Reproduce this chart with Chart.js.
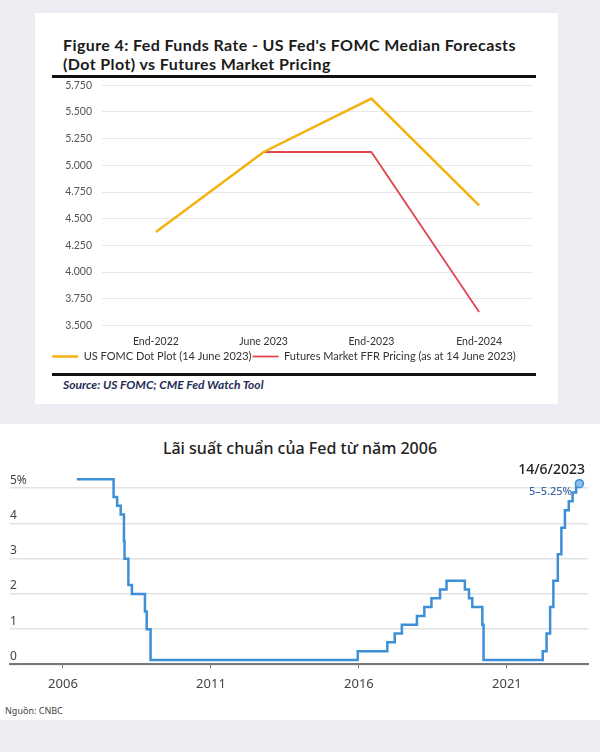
<!DOCTYPE html>
<html>
<head>
<meta charset="UTF-8">
<title>Fed Funds Rate</title>
<script src="https://cdn.jsdelivr.net/npm/chart.js"></script>
<style>
  body { margin: 0; width: 600px; height: 752px; background: #eceef3; position: relative; overflow: hidden; }
  .abs { position: absolute; }
  #card1 { left: 35px; top: 13px; width: 523px; height: 391px; background: #fff; }
  #title1 { left: 28px; top: 22px; font: bold 16px Lato, sans-serif; letter-spacing: 0.4px; line-height: 19px; color: #1b1b1b; white-space: nowrap; }
  .rule { background: #111; height: 3px; left: 17px; width: 484px; }
  #source { left: 28px; top: 365px; font: italic bold 12px Lato, sans-serif; line-height: 14px; color: #1f2d55; }
  #panel2 { left: 0; top: 424px; width: 600px; height: 296px; background: #fff; }
  #title2 { left: 0; width: 600px; top: 13px; text-align: center; font: 500 16px "Noto Sans", sans-serif; color: #222; }
  #dateLbl { right: 15px; top: 35px; font: 500 14px "Noto Sans", sans-serif; color: #222; }
  #rangeLbl { right: 28px; top: 59px; font: 500 11px "Noto Sans", sans-serif; color: #3f6aa8; }
  #nguon { left: 5px; top: 280px; font: 9px "Noto Sans", sans-serif; color: #444; }
</style>
</head>
<body>

<div id="card1" class="abs">
  <div id="title1" class="abs">Figure 4: Fed Funds Rate - US Fed's FOMC Median Forecasts<br>(Dot Plot) vs Futures Market Pricing</div>
  <div class="abs rule" style="top:62px"></div>
  <div class="abs" style="left:0;top:56px"><canvas id="dotChart" width="523" height="303"></canvas></div>
  <div class="abs rule" style="top:360px"></div>
  <div id="source" class="abs">Source: US FOMC; CME Fed Watch Tool</div>
</div>

<div id="panel2" class="abs">
  <div id="title2" class="abs">Lãi suất chuẩn của Fed từ năm 2006</div>
  <div class="abs" style="left:0;top:31px"><canvas id="rateChart" width="600" height="245"></canvas></div>
  <div id="dateLbl" class="abs">14/6/2023</div>
  <div id="rangeLbl" class="abs">5–5.25%</div>
  <div id="nguon" class="abs">Nguồn: CNBC</div>
</div>

<script>
  // Biểu đồ 1 : dot plot vs futures
  const categories = ['End-2022', 'June 2023', 'End-2023', 'End-2024'];
  const fomcDots = [4.375, 5.125, 5.625, 4.625];
  const futuresPricing = [null, 5.125, 5.125, 3.625];

  // Biểu đồ 2 : lãi suất (năm thập phân, mức)
  const rateDates = [2006.47, 2007.71, 2007.83, 2007.95, 2008.06, 2008.08, 2008.21, 2008.33, 2008.77, 2008.83,
    2008.96, 2015.96, 2016.96, 2017.21, 2017.45, 2017.96, 2018.21, 2018.45, 2018.74, 2018.96,
    2019.58, 2019.72, 2019.83, 2020.17, 2020.21, 2022.21, 2022.34, 2022.46, 2022.57, 2022.72,
    2022.84, 2022.96, 2023.09, 2023.22, 2023.34, 2023.45];
  const rateValues = [5.25, 4.75, 4.5, 4.25, 3.5, 3.0, 2.25, 2.0, 1.5, 1.0,
    0.125, 0.375, 0.625, 0.875, 1.125, 1.375, 1.625, 1.875, 2.125, 2.375,
    2.125, 1.875, 1.625, 1.125, 0.125, 0.375, 0.875, 1.625, 2.375, 3.125,
    3.875, 4.375, 4.625, 4.875, 5.125, 5.125];
  const yearTicks = [2006, 2011, 2016, 2021];

  new Chart(document.getElementById('dotChart'), {
    type: 'line',
    data: {
      labels: categories,
      datasets: [
        { label: 'US FOMC Dot Plot (14 June 2023)', data: fomcDots, borderColor: '#f4b10f', backgroundColor: '#f4b10f', borderWidth: 2.5, pointRadius: 0 },
        { label: 'Futures Market FFR Pricing (as at 14 June 2023)', data: futuresPricing, borderColor: '#e2474d', backgroundColor: '#e2474d', borderWidth: 1.8, pointRadius: 0 }
      ]
    },
    options: {
      responsive: false,
      animation: false,
      layout: { padding: { top: 0, right: 25, left: 0, bottom: 0 } },
      scales: {
        y: {
          min: 3.5, max: 5.75,
          ticks: { stepSize: 0.25, callback: v => v.toFixed(3), color: '#555', font: { family: 'Lato', size: 10.5 }, padding: 10 },
          grid: { color: '#e8e8e8', drawTicks: false },
          border: { display: false },
          afterFit: s => { s.width = 67; }
        },
        x: {
          offset: true,
          grid: { display: false },
          border: { display: false },
          ticks: { color: '#333', font: { family: 'Lato', size: 10.5 }, padding: 2 }
        }
      },
      plugins: {
        legend: {
          position: 'bottom',
          labels: { usePointStyle: true, pointStyle: 'line', pointStyleWidth: 26, boxHeight: 8, color: '#333', font: { family: 'Lato', size: 11 }, padding: 1 }
        },
        tooltip: { enabled: false }
      }
    }
  });

  const lastIdx = rateValues.length - 1;
  new Chart(document.getElementById('rateChart'), {
    type: 'line',
    data: {
      datasets: [{
        data: rateDates.map((d, i) => ({ x: d, y: rateValues[i] })),
        borderColor: '#3d8fd6',
        borderWidth: 2.5,
        stepped: 'before',
        pointRadius: c => c.dataIndex === lastIdx ? 4 : 0,
        pointBackgroundColor: '#8cc0ee',
        pointBorderColor: '#3d8fd6',
        pointBorderWidth: 1.5,
        clip: false
      }]
    },
    options: {
      responsive: false,
      animation: false,
      layout: { padding: { top: 15.5, right: 12, left: 10, bottom: 0 } },
      scales: {
        y: {
          min: 0, max: 5.5,
          ticks: { stepSize: 1, includeBounds: false, mirror: true, padding: 0, labelOffset: -8,
            callback: v => v === 5 ? '5%' : v, color: '#444', font: { family: 'Noto Sans', size: 12 } },
          grid: { color: '#e2e2e2', lineWidth: 1.5, drawTicks: false },
          border: { display: false }
        },
        x: {
          type: 'linear',
          min: 2004.21, max: 2023.74,
          afterBuildTicks: s => { s.ticks = yearTicks.map(v => ({ value: v })); },
          ticks: { callback: v => String(v), color: '#444', font: { family: 'Noto Sans', size: 13 }, padding: 8 },
          grid: { drawOnChartArea: false, drawTicks: true, tickLength: 4, color: '#777' },
          border: { display: true, color: '#777', width: 2 }
        }
      },
      plugins: { legend: { display: false }, tooltip: { enabled: false } }
    }
  });
</script>
</body>
</html>
